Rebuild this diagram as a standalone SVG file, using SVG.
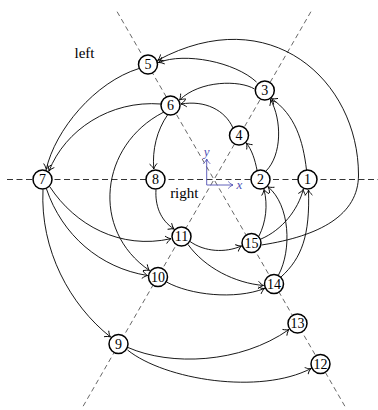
<svg xmlns="http://www.w3.org/2000/svg" width="378" height="410" viewBox="0 0 378 410">
<defs>
<marker id="ah" markerUnits="userSpaceOnUse" markerWidth="10" markerHeight="10" viewBox="-6 -5 7 10" refX="0" refY="0" orient="auto" overflow="visible">
<path d="M-5,-3.5 C-3.4,-1.8 -1.3,-0.4 0,0 C-1.3,0.4 -3.4,1.8 -5,3.5" fill="none" stroke="#000" stroke-width="0.9" stroke-linecap="round"/>
</marker>
<marker id="ahb" markerUnits="userSpaceOnUse" markerWidth="10" markerHeight="10" viewBox="-6 -5 7 10" refX="0" refY="0" orient="auto" overflow="visible">
<path d="M-4.5,-3.2 C-3,-1.6 -1.2,-0.4 0,0 C-1.2,0.4 -3,1.6 -4.5,3.2" fill="none" stroke="#5050b4" stroke-width="0.9" stroke-linecap="round"/>
</marker>
</defs>
<style>
.ax{stroke:#000;fill:none}
.h{stroke-width:0.8;stroke-dasharray:6 3.5}
.d{stroke-width:0.6;stroke-dasharray:5 3.5}
.e{fill:none;stroke:#000;stroke-width:0.9;marker-end:url(#ah)}
.n circle{fill:#fff;stroke:#000;stroke-width:1.5}
.n text,.lb{font-family:"Liberation Serif","DejaVu Serif",serif;font-size:14px;fill:#000;text-anchor:middle}
.b{stroke:#5050b4;stroke-width:0.9;fill:none;marker-end:url(#ahb)}
.bt{font-family:"Liberation Serif","DejaVu Serif",serif;font-style:italic;font-size:13px;fill:#5050b4;text-anchor:middle}
</style>
<g id="axes">
<line class="ax h" x1="7" y1="179.5" x2="378" y2="179.5"/>
<line class="ax d" x1="310.9" y1="11.7" x2="82.1" y2="408"/>
<line class="ax d" x1="117.1" y1="11.7" x2="345.9" y2="408"/>
<path class="b" d="M206.7,185 H233"/>
<path class="b" d="M206.7,185 V159"/>
<text class="bt" x="239.5" y="188.5">x</text>
<text class="bt" x="206.7" y="156">y</text>
<text class="lb" x="84.5" y="57.5" style="font-size:15px">left</text>
<text class="lb" x="184.3" y="197.5" style="font-size:15px">right</text>
</g>
<g id="edges">
<path class="e" d="M256.5,82 C235,62 185,52 158.5,62.5"/>
<path class="e" d="M261.5,245 C320,236 358.5,215 358.5,175 C358.5,80 270,0 157.8,60.2"/>
<path class="e" d="M254.5,89 C240,80 200,80 179.5,100"/>
<path class="e" d="M233,128 C225,110 205,100 181,104"/>
<path class="e" d="M257,170 C255,160 252,150 246.3,143"/>
<path class="e" d="M266,171 C282,155 282,120 270.5,99.5"/>
<path class="e" d="M306.5,170 C303,140 295,115 271.5,98.5"/>
<path class="e" d="M139,68.5 C95,82 55,130 46.2,169.5"/>
<path class="e" d="M161,104 C110,100 65,130 49,171"/>
<path class="e" d="M167.5,115 C157,130 152,150 153.8,169"/>
<path class="e" d="M163,112.5 C100,145 90,230 149.5,270.5"/>
<path class="e" d="M50,187 C75,225 120,250 171,238.7"/>
<path class="e" d="M46.5,189 C62,235 100,268 147.6,275.5"/>
<path class="e" d="M43,189.5 C40,250 70,305 110.5,337"/>
<path class="e" d="M156,189.5 C155,205 160,220 174,229"/>
<path class="e" d="M190,241.5 C205,252 225,253 241.5,246"/>
<path class="e" d="M188,244.5 C205,268 235,283 263.5,285.5"/>
<path class="e" d="M166.5,282 C190,295 235,300 264.5,288.5"/>
<path class="e" d="M259,236 C266,222 268,205 264,189.5"/>
<path class="e" d="M278.5,275 C292,250 290,205 268,186.8"/>
<path class="e" d="M261,239 C282,230 298,210 303.3,189.3"/>
<path class="e" d="M281,277 C302,258 310,235 308.5,190"/>
<path class="e" d="M128,347.5 C170,366 240,364 289,329.5"/>
<path class="e" d="M127.5,350 C165,380 260,395 311,368.5"/>
</g>
<g id="n1" class="n"><circle cx="307.5" cy="179.5" r="9.5"/><text x="307.5" y="184.3">1</text></g>
<g id="n2" class="n"><circle cx="260.5" cy="179.5" r="9.5"/><text x="260.5" y="184.3">2</text></g>
<g id="n3" class="n"><circle cx="264.8" cy="90.5" r="9.5"/><text x="264.8" y="95.3">3</text></g>
<g id="n4" class="n"><circle cx="239" cy="135.5" r="9.5"/><text x="239" y="140.3">4</text></g>
<g id="n5" class="n"><circle cx="148" cy="64.5" r="9.5"/><text x="148" y="69.3">5</text></g>
<g id="n6" class="n"><circle cx="170.5" cy="105.5" r="9.5"/><text x="170.5" y="110.3">6</text></g>
<g id="n7" class="n"><circle cx="42.5" cy="179.5" r="9.5"/><text x="42.5" y="184.3">7</text></g>
<g id="n8" class="n"><circle cx="155.5" cy="179.5" r="9.5"/><text x="155.5" y="184.3">8</text></g>
<g id="n9" class="n"><circle cx="118.5" cy="344" r="9.5"/><text x="118.5" y="348.8">9</text></g>
<g id="n10" class="n"><circle cx="158" cy="277" r="9.5"/><text x="158" y="281.8">10</text></g>
<g id="n11" class="n"><circle cx="181.5" cy="236.5" r="9.5"/><text x="181.5" y="241.3">11</text></g>
<g id="n12" class="n"><circle cx="320.5" cy="364" r="9.5"/><text x="320.5" y="368.8">12</text></g>
<g id="n13" class="n"><circle cx="297.5" cy="323.5" r="9.5"/><text x="297.5" y="328.3">13</text></g>
<g id="n14" class="n"><circle cx="274" cy="284" r="9.5"/><text x="274" y="288.8">14</text></g>
<g id="n15" class="n"><circle cx="251.5" cy="243" r="9.5"/><text x="251.5" y="247.8">15</text></g>
</svg>
